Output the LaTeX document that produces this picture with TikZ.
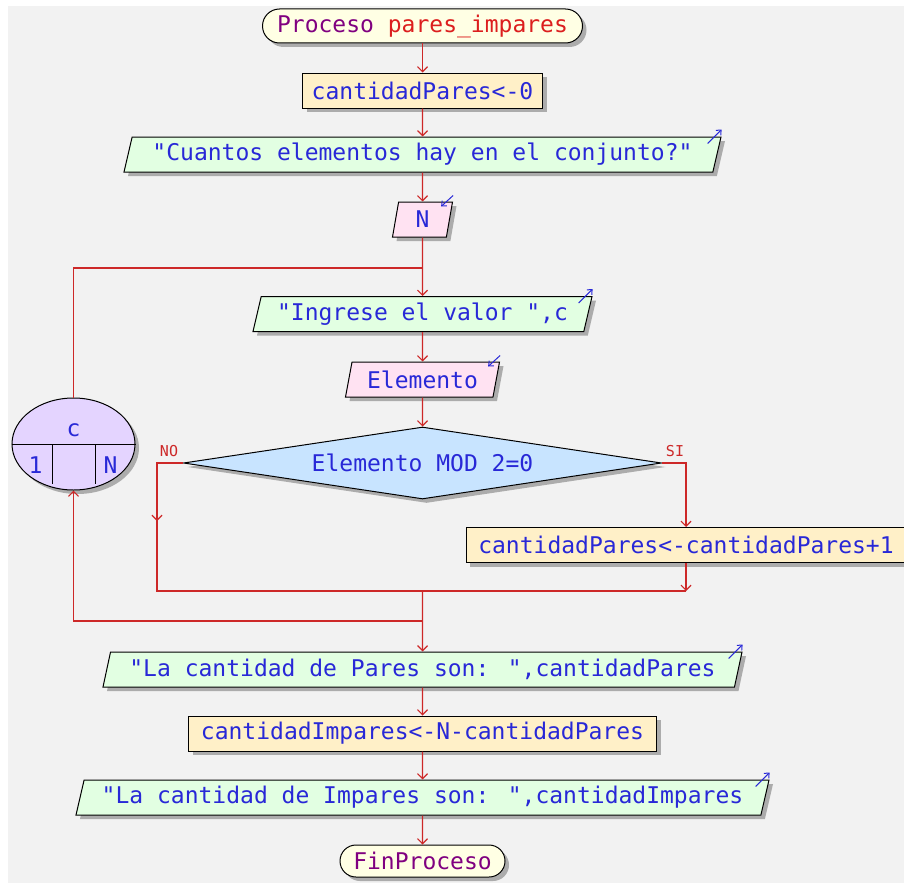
\documentclass[tikz,border=0pt]{standalone}
\usepackage{fontspec}
\newfontfamily\flowfont{DejaVu Sans Mono}
\usetikzlibrary{shapes.geometric,shapes.misc,shadows,arrows.meta,calc}

\definecolor{bggray}{RGB}{242,242,242}
\definecolor{linered}{RGB}{205,40,40}
\definecolor{txtblue}{RGB}{40,40,215}
\definecolor{procpurple}{RGB}{128,0,128}
\definecolor{procred}{RGB}{220,30,30}
\definecolor{termfill}{RGB}{255,255,228}
\definecolor{assignfill}{RGB}{255,240,200}
\definecolor{outfill}{RGB}{226,255,226}
\definecolor{infill}{RGB}{255,226,242}
\definecolor{condfill}{RGB}{200,228,255}
\definecolor{loopfill}{RGB}{228,212,255}
\definecolor{shadowgray}{RGB}{172,172,172}

\begin{document}
\begin{tikzpicture}[x=1pt,y=-1pt,
  flowtext/.style={text=txtblue, font=\flowfont\fontsize{23}{25}\selectfont},
  flow/.style={flowtext, draw=black, line width=1pt, fill=#1, inner sep=0pt,
    drop shadow={shadow xshift=4pt, shadow yshift=-4pt, fill=shadowgray, opacity=1}},
  termbox/.style={flow=termfill, rounded rectangle, minimum height=34pt},
  assignbox/.style={flow=assignfill, rectangle, minimum height=35pt},
  iobox/.style={flow=#1, trapezium, trapezium left angle=70, trapezium right angle=110,
    trapezium stretches body, minimum height=35pt},
  outbox/.style={iobox=outfill},
  inbox/.style={iobox=infill},
  condbox/.style={flow=condfill, diamond, aspect=6.6, minimum height=72pt},
  loopbox/.style={flow=loopfill, ellipse, minimum width=123pt, minimum height=92pt},
  conn/.style={draw=linered, line width=1.2pt},
  arr/.style={conn, -{Straight Barb[length=5pt,width=10pt]}},
  branchtag/.style={text=linered, font=\flowfont\fontsize{15}{15}\selectfont, inner sep=0pt},
  outicon/.style={draw=txtblue, line width=1pt, -{Straight Barb[length=4pt,width=7pt]}},
]
% canvas
\fill[white] (0,0) rectangle (904,883);
\fill[bggray] (8,6) rectangle (904,883);
\useasboundingbox (0,0) rectangle (904,883);

% main column
\node[termbox, minimum width=320pt] (start) at (422.5,26)
  {{\color{procpurple}Proceso} {\color{procred}pares\_impares}};
\node[assignbox, minimum width=240pt] (a1) at (422.5,90.5) {cantidadPares<-0};
\node[outbox, minimum width=597pt] (o1) at (422.5,154.5) {"Cuantos elementos hay en el conjunto?"};
\node[inbox, minimum width=60pt] (n) at (422.5,219.5) {N};
\node[outbox, minimum width=339pt] (o2) at (422.5,314) {"Ingrese el valor ",c};
\node[inbox, minimum width=154pt] (elem) at (422.5,379.5) {Elemento};
\node[condbox, minimum width=478pt] (dia) at (422.5,463) {Elemento MOD 2=0};
\node[assignbox, minimum width=440pt] (si) at (686,545) {cantidadPares<-cantidadPares+1};
\node[outbox, minimum width=639pt] (o3) at (422.5,669.5) {"La cantidad de Pares son: ",cantidadPares};
\node[assignbox, minimum width=468pt] (a2) at (422.5,733.5) {cantidadImpares<-N-cantidadPares};
\node[outbox, minimum width=693pt] (o4) at (422.5,797.5) {"La cantidad de Impares son: ",cantidadImpares};
\node[termbox, minimum width=165pt, minimum height=32pt, text=procpurple] (fin) at (422.5,861) {FinProceso};

% for-loop symbol
\node[loopbox] (loop) at (73.5,444) {};
\draw[line width=1pt] (loop.west) -- (loop.east);
\draw[line width=1pt] ($(loop.center)+(-21.5,0)$) -- ++(0,40);
\draw[line width=1pt] ($(loop.center)+(21.5,0)$) -- ++(0,40);
\node[flowtext, inner sep=0pt] (loopvar) at ($(loop.center)+(0,-14)$) {c};
\node[flowtext, inner sep=0pt] (loopfrom) at ($(loop.center)+(-38,21)$) {1};
\node[flowtext, inner sep=0pt] (loopto) at ($(loop.center)+(37,21)$) {N};

% read / write markers
\foreach \b in {o1,o2,o3,o4}
  \draw[outicon] ($(\b.top right corner)+(-14,7)$) -- ++(14,-14);
\foreach \b in {n,elem}
  \draw[outicon] ($(\b.top right corner)+(0,-6)$) -- ++(-12,11);

% connectors
\coordinate (looptop) at (422.5,268);
\coordinate (join) at (422.5,591);
\coordinate (loopbot) at (422.5,621);

\draw[arr] (start.south) -- (a1.north);
\draw[arr] (a1.south) -- (o1.north);
\draw[arr] (o1.south) -- (n.north);
\draw[arr] (n.south) -- (o2.north);
\draw[conn] (loop.north) |- (looptop);
\draw[arr] (o2.south) -- (elem.north);
\draw[arr] (elem.south) -- (dia.north);

% false branch
\draw[conn] (dia.west) -- ++(-26,0) coordinate (nocorner)
  -- (nocorner |- join) -- (join);
\draw[arr] (nocorner) -- ++(0,58);
\node[branchtag] (notag) at (169,451) {NO};

% true branch
\draw[arr] (dia.east) -| (si.north);
\draw[arr] (si.south) -- (si.south |- join);
\draw[conn] (si.south |- join) -- (join);
\node[branchtag] (sitag) at (675,451) {SI};

% after the decision
\draw[arr] (join) -- (o3.north);
\draw[arr] (loopbot) -| (loop.south);
\draw[arr] (o3.south) -- (a2.north);
\draw[arr] (a2.south) -- (o4.north);
\draw[arr] (o4.south) -- (fin.north);
\end{tikzpicture}
\end{document}
